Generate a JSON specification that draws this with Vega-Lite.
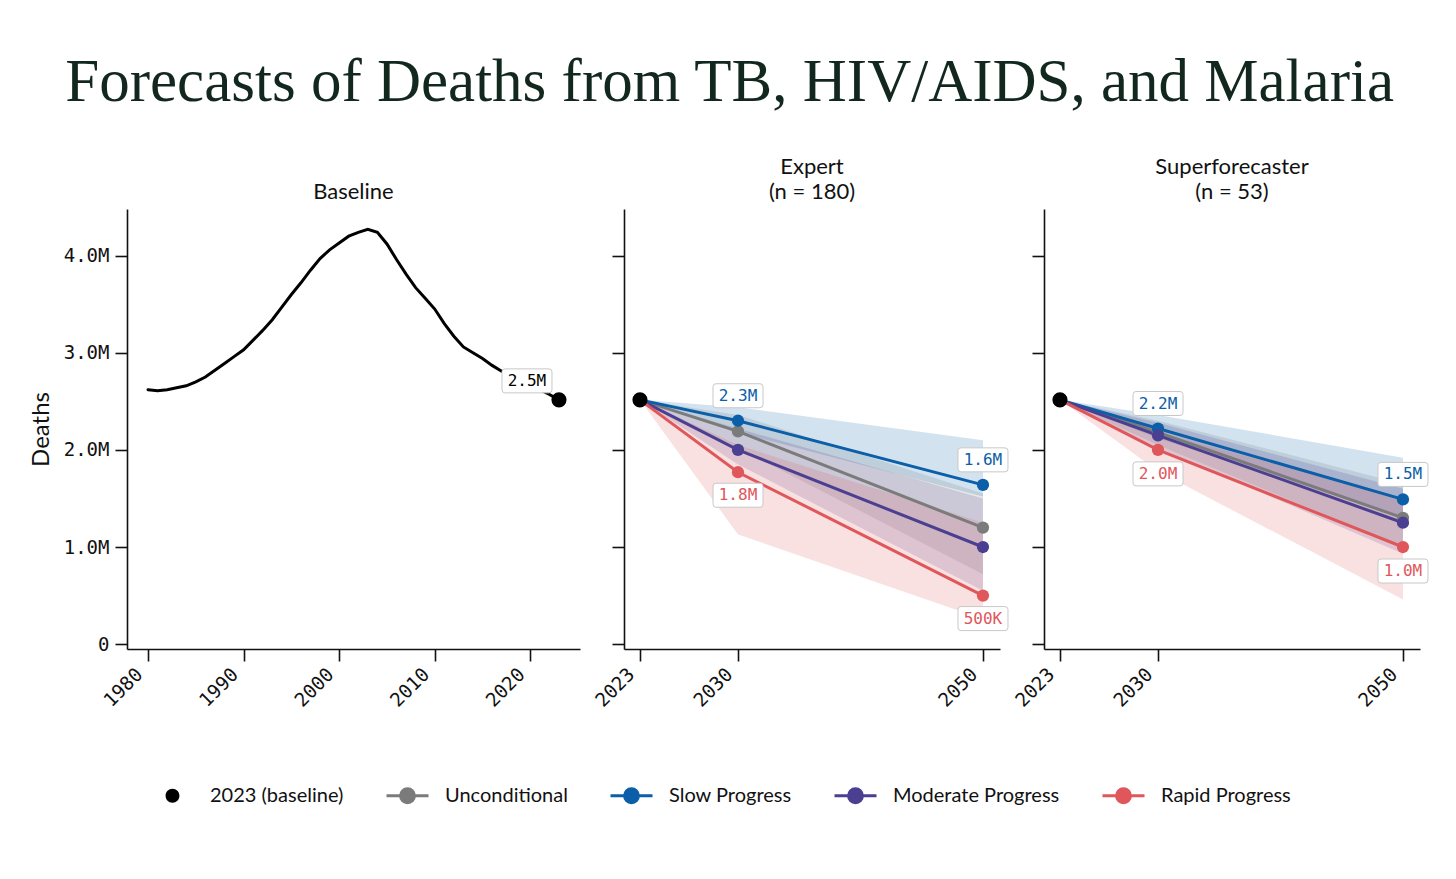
{
  "$schema": "https://vega.github.io/schema/vega-lite/v6.json",
  "background": "white",
  "padding": {"left": 29, "top": 52, "right": 20, "bottom": 10},
  "title": {
    "text": "Forecasts of Deaths from TB, HIV/AIDS, and Malaria",
    "font": "Liberation Serif",
    "fontSize": 61,
    "fontWeight": "normal",
    "color": "#12281f",
    "anchor": "middle",
    "offset": 42
  },
  "datasets": {
    "baseline": [
      {"year": 1980, "deaths": 2620000}, {"year": 1981, "deaths": 2610000},
      {"year": 1982, "deaths": 2620000}, {"year": 1983, "deaths": 2640000},
      {"year": 1984, "deaths": 2660000}, {"year": 1985, "deaths": 2700000},
      {"year": 1986, "deaths": 2750000}, {"year": 1987, "deaths": 2820000},
      {"year": 1988, "deaths": 2890000}, {"year": 1989, "deaths": 2960000},
      {"year": 1990, "deaths": 3030000}, {"year": 1991, "deaths": 3130000},
      {"year": 1992, "deaths": 3230000}, {"year": 1993, "deaths": 3340000},
      {"year": 1994, "deaths": 3470000}, {"year": 1995, "deaths": 3600000},
      {"year": 1996, "deaths": 3720000}, {"year": 1997, "deaths": 3850000},
      {"year": 1998, "deaths": 3970000}, {"year": 1999, "deaths": 4060000},
      {"year": 2000, "deaths": 4130000}, {"year": 2001, "deaths": 4200000},
      {"year": 2002, "deaths": 4240000}, {"year": 2003, "deaths": 4270000},
      {"year": 2004, "deaths": 4240000}, {"year": 2005, "deaths": 4120000},
      {"year": 2006, "deaths": 3960000}, {"year": 2007, "deaths": 3810000},
      {"year": 2008, "deaths": 3670000}, {"year": 2009, "deaths": 3560000},
      {"year": 2010, "deaths": 3450000}, {"year": 2011, "deaths": 3300000},
      {"year": 2012, "deaths": 3170000}, {"year": 2013, "deaths": 3060000},
      {"year": 2014, "deaths": 3000000}, {"year": 2015, "deaths": 2940000},
      {"year": 2016, "deaths": 2870000}, {"year": 2017, "deaths": 2810000},
      {"year": 2018, "deaths": 2760000}, {"year": 2019, "deaths": 2700000},
      {"year": 2020, "deaths": 2660000}, {"year": 2021, "deaths": 2620000},
      {"year": 2022, "deaths": 2570000}, {"year": 2023, "deaths": 2515000}
    ],
    "anchor": [
      {"panel": "Baseline", "series": "2023 (baseline)", "year": 2023, "deaths": 2515000},
      {"panel": "Expert", "series": "2023 (baseline)", "year": 2023, "deaths": 2515000},
      {"panel": "Superforecaster", "series": "2023 (baseline)", "year": 2023, "deaths": 2515000}
    ],
    "forecast": [
      {"panel": "Expert", "series": "Unconditional", "year": 2023, "deaths": 2515000, "lo": 2515000, "hi": 2515000},
      {"panel": "Expert", "series": "Unconditional", "year": 2030, "deaths": 2190000, "lo": 2020000, "hi": 2360000},
      {"panel": "Expert", "series": "Unconditional", "year": 2050, "deaths": 1200000, "lo": 720000, "hi": 1550000},
      {"panel": "Expert", "series": "Slow Progress", "year": 2023, "deaths": 2515000, "lo": 2515000, "hi": 2515000},
      {"panel": "Expert", "series": "Slow Progress", "year": 2030, "deaths": 2300000, "lo": 2180000, "hi": 2440000},
      {"panel": "Expert", "series": "Slow Progress", "year": 2050, "deaths": 1640000, "lo": 1520000, "hi": 2100000},
      {"panel": "Expert", "series": "Moderate Progress", "year": 2023, "deaths": 2515000, "lo": 2515000, "hi": 2515000},
      {"panel": "Expert", "series": "Moderate Progress", "year": 2030, "deaths": 2000000, "lo": 1850000, "hi": 2220000},
      {"panel": "Expert", "series": "Moderate Progress", "year": 2050, "deaths": 1000000, "lo": 550000, "hi": 1500000},
      {"panel": "Expert", "series": "Rapid Progress", "year": 2023, "deaths": 2515000, "lo": 2515000, "hi": 2515000},
      {"panel": "Expert", "series": "Rapid Progress", "year": 2030, "deaths": 1770000, "lo": 1130000, "hi": 2050000},
      {"panel": "Expert", "series": "Rapid Progress", "year": 2050, "deaths": 500000, "lo": 260000, "hi": 1250000},
      {"panel": "Superforecaster", "series": "Unconditional", "year": 2023, "deaths": 2515000, "lo": 2515000, "hi": 2515000},
      {"panel": "Superforecaster", "series": "Unconditional", "year": 2030, "deaths": 2180000, "lo": 2050000, "hi": 2300000},
      {"panel": "Superforecaster", "series": "Unconditional", "year": 2050, "deaths": 1300000, "lo": 1000000, "hi": 1650000},
      {"panel": "Superforecaster", "series": "Slow Progress", "year": 2023, "deaths": 2515000, "lo": 2515000, "hi": 2515000},
      {"panel": "Superforecaster", "series": "Slow Progress", "year": 2030, "deaths": 2220000, "lo": 2120000, "hi": 2360000},
      {"panel": "Superforecaster", "series": "Slow Progress", "year": 2050, "deaths": 1490000, "lo": 1300000, "hi": 1920000},
      {"panel": "Superforecaster", "series": "Moderate Progress", "year": 2023, "deaths": 2515000, "lo": 2515000, "hi": 2515000},
      {"panel": "Superforecaster", "series": "Moderate Progress", "year": 2030, "deaths": 2150000, "lo": 2020000, "hi": 2280000},
      {"panel": "Superforecaster", "series": "Moderate Progress", "year": 2050, "deaths": 1250000, "lo": 930000, "hi": 1600000},
      {"panel": "Superforecaster", "series": "Rapid Progress", "year": 2023, "deaths": 2515000, "lo": 2515000, "hi": 2515000},
      {"panel": "Superforecaster", "series": "Rapid Progress", "year": 2030, "deaths": 2000000, "lo": 1780000, "hi": 2180000},
      {"panel": "Superforecaster", "series": "Rapid Progress", "year": 2050, "deaths": 1000000, "lo": 460000, "hi": 1500000}
    ]
  },
  "spacing": 44,
  "bounds": "flush",
  "resolve": {"scale": {"color": "shared", "stroke": "shared", "fill": "shared"}, "legend": {"color": "shared", "stroke": "shared"}},
  "hconcat": [
    {
      "width": 453,
      "height": 440,
      "title": {"text": "Baseline", "frame": "group", "font": "Lato", "fontSize": 22, "fontWeight": "normal", "color": "#111111", "offset": 5},
      "layer": [
        {
          "data": {"name": "baseline"},
          "mark": {"type": "line", "color": "#000000", "strokeWidth": 3, "strokeCap": "round"},
          "encoding": {
            "x": {"field": "year", "type": "quantitative", "scale": {"domain": [1977.8, 2025.2], "nice": false, "zero": false},
                  "axis": {"title": null, "values": [1980, 1990, 2000, 2010, 2020], "format": "d"}},
            "y": {"field": "deaths", "type": "quantitative", "scale": {"domain": [-50000, 4480000], "nice": false, "zero": false},
                  "axis": {"title": "Deaths", "values": [0, 1000000, 2000000, 3000000, 4000000], "labelPadding": 6, "titlePadding": 10,
                           "labelExpr": "datum.value === 0 ? '0' : format(datum.value / 1000000, '.1f') + 'M'"}}
          }
        },
        {
          "data": {"name": "anchor"},
          "transform": [{"filter": "datum.panel === 'Baseline'"}],
          "mark": {"type": "point", "filled": true, "opacity": 1, "size": 230},
          "encoding": {
            "x": {"field": "year", "type": "quantitative"},
            "y": {"field": "deaths", "type": "quantitative"},
            "color": {"field": "series", "type": "nominal",
                      "scale": {"domain": ["2023 (baseline)", "Unconditional", "Slow Progress", "Moderate Progress", "Rapid Progress"],
                                "range": ["#000000", "#7b7b7b", "#0b5ea8", "#4b3f91", "#e0575b"]},
                      "legend": {
                        "orient": "none", "legendX": 23, "legendY": 564, "direction": "horizontal", "title": null,
                        "labelFont": "Lato", "labelFontSize": 20, "labelColor": "#111111", "labelOffset": 15, "labelLimit": 400,
                        "columnPadding": 36, "symbolSize": 1764, "symbolStrokeWidth": 3, "symbolOpacity": 1,
                        "symbolType": "M-1,0L1,0M-0.33,0A0.33,0.33,0,1,1,0.33,0A0.33,0.33,0,1,1,-0.33,0Z"
                      }}
          }
        },
        {
          "data": {"name": "anchor"},
          "transform": [{"filter": "datum.panel === 'Baseline'"}],
          "mark": {"type": "point", "filled": true, "fill": "white", "stroke": "#c8c8c8", "strokeWidth": 1, "opacity": 1, "size": 2500,
                   "shape": "M-0.88,-0.48L0.88,-0.48Q1,-0.48,1,-0.36L1,0.36Q1,0.48,0.88,0.48L-0.88,0.48Q-1,0.48,-1,0.36L-1,-0.36Q-1,-0.48,-0.88,-0.48Z",
                   "xOffset": -32, "yOffset": -19},
          "encoding": {
            "x": {"field": "year", "type": "quantitative"},
            "y": {"field": "deaths", "type": "quantitative"}
          }
        },
        {
          "data": {"name": "anchor"},
          "transform": [
            {"filter": "datum.panel === 'Baseline'"},
            {"calculate": "format(datum.deaths / 1000000, '.1f') + 'M'", "as": "lbl"}
          ],
          "mark": {"type": "text", "font": "DejaVu Sans Mono", "fontSize": 16, "color": "#000000", "dx": -32, "dy": -19, "align": "center", "baseline": "middle"},
          "encoding": {
            "x": {"field": "year", "type": "quantitative"},
            "y": {"field": "deaths", "type": "quantitative"},
            "text": {"field": "lbl"}
          }
        }
      ]
    },
    {
      "width": 376,
      "height": 440,
      "title": {"text": ["Expert", "(n = 180)"], "frame": "group", "font": "Lato", "fontSize": 22, "fontWeight": "normal", "color": "#111111", "offset": 5, "lineHeight": 25},
      "layer": [
        {
          "data": {"name": "forecast"},
          "transform": [{"filter": "datum.panel === 'Expert'"}],
          "mark": {"type": "area", "fillOpacity": 0.18},
          "encoding": {
            "x": {"field": "year", "type": "quantitative", "scale": {"domain": [2021.86, 2030, 2051.39], "range": [0, 114, 376], "nice": false, "zero": false},
                  "axis": {"title": null, "values": [2023, 2030, 2050], "format": "d"}},
            "y": {"field": "lo", "type": "quantitative", "scale": {"domain": [-50000, 4480000], "nice": false, "zero": false},
                  "axis": {"title": null, "labels": false, "values": [0, 1000000, 2000000, 3000000, 4000000]}},
            "y2": {"field": "hi"},
            "fill": {"field": "series", "type": "nominal", "legend": null,
                     "scale": {"domain": ["Unconditional", "Slow Progress", "Moderate Progress", "Rapid Progress"],
                               "range": ["#7b7b7b", "#0b5ea8", "#4b3f91", "#e0575b"]}}
          }
        },
        {
          "data": {"name": "forecast"},
          "transform": [{"filter": "datum.panel === 'Expert'"}],
          "mark": {"type": "line", "strokeWidth": 3},
          "encoding": {
            "x": {"field": "year", "type": "quantitative"},
            "y": {"field": "deaths", "type": "quantitative"},
            "stroke": {"field": "series", "type": "nominal",
                       "scale": {"domain": ["2023 (baseline)", "Unconditional", "Slow Progress", "Moderate Progress", "Rapid Progress"],
                                 "range": ["transparent", "#7b7b7b", "#0b5ea8", "#4b3f91", "#e0575b"]}}
          }
        },
        {
          "data": {"name": "forecast"},
          "transform": [{"filter": "datum.panel === 'Expert' && datum.year > 2023"}],
          "mark": {"type": "point", "filled": true, "opacity": 1, "size": 150},
          "encoding": {
            "x": {"field": "year", "type": "quantitative"},
            "y": {"field": "deaths", "type": "quantitative"},
            "color": {"field": "series", "type": "nominal"}
          }
        },
        {
          "data": {"name": "anchor"},
          "transform": [{"filter": "datum.panel === 'Expert'"}],
          "mark": {"type": "point", "filled": true, "opacity": 1, "size": 230},
          "encoding": {
            "x": {"field": "year", "type": "quantitative"},
            "y": {"field": "deaths", "type": "quantitative"},
            "color": {"field": "series", "type": "nominal"}
          }
        },
        {
          "data": {"name": "forecast"},
          "transform": [{"filter": "datum.panel === 'Expert' && datum.year > 2023 && datum.series === 'Slow Progress'"}],
          "mark": {"type": "point", "filled": true, "fill": "white", "stroke": "#c8c8c8", "strokeWidth": 1, "opacity": 1, "size": 2500,
                   "shape": "M-0.88,-0.48L0.88,-0.48Q1,-0.48,1,-0.36L1,0.36Q1,0.48,0.88,0.48L-0.88,0.48Q-1,0.48,-1,0.36L-1,-0.36Q-1,-0.48,-0.88,-0.48Z",
                   "yOffset": -25},
          "encoding": {
            "x": {"field": "year", "type": "quantitative"},
            "y": {"field": "deaths", "type": "quantitative"}
          }
        },
        {
          "data": {"name": "forecast"},
          "transform": [{"filter": "datum.panel === 'Expert' && datum.year > 2023 && datum.series === 'Rapid Progress'"}],
          "mark": {"type": "point", "filled": true, "fill": "white", "stroke": "#c8c8c8", "strokeWidth": 1, "opacity": 1, "size": 2500,
                   "shape": "M-0.88,-0.48L0.88,-0.48Q1,-0.48,1,-0.36L1,0.36Q1,0.48,0.88,0.48L-0.88,0.48Q-1,0.48,-1,0.36L-1,-0.36Q-1,-0.48,-0.88,-0.48Z",
                   "yOffset": 23},
          "encoding": {
            "x": {"field": "year", "type": "quantitative"},
            "y": {"field": "deaths", "type": "quantitative"}
          }
        },
        {
          "data": {"name": "forecast"},
          "transform": [
            {"filter": "datum.panel === 'Expert' && datum.year > 2023 && datum.series === 'Slow Progress'"},
            {"calculate": "datum.deaths >= 1000000 ? format(datum.deaths / 1000000, '.1f') + 'M' : format(datum.deaths / 1000, '.0f') + 'K'", "as": "lbl"}
          ],
          "mark": {"type": "text", "font": "DejaVu Sans Mono", "fontSize": 16, "color": "#0b5ea8", "dy": -25, "align": "center", "baseline": "middle"},
          "encoding": {
            "x": {"field": "year", "type": "quantitative"},
            "y": {"field": "deaths", "type": "quantitative"},
            "text": {"field": "lbl"}
          }
        },
        {
          "data": {"name": "forecast"},
          "transform": [
            {"filter": "datum.panel === 'Expert' && datum.year > 2023 && datum.series === 'Rapid Progress'"},
            {"calculate": "datum.deaths >= 1000000 ? format(datum.deaths / 1000000, '.1f') + 'M' : format(datum.deaths / 1000, '.0f') + 'K'", "as": "lbl"}
          ],
          "mark": {"type": "text", "font": "DejaVu Sans Mono", "fontSize": 16, "color": "#e0575b", "dy": 23, "align": "center", "baseline": "middle"},
          "encoding": {
            "x": {"field": "year", "type": "quantitative"},
            "y": {"field": "deaths", "type": "quantitative"},
            "text": {"field": "lbl"}
          }
        }
      ]
    },
    {
      "width": 376,
      "height": 440,
      "title": {"text": ["Superforecaster", "(n = 53)"], "frame": "group", "font": "Lato", "fontSize": 22, "fontWeight": "normal", "color": "#111111", "offset": 5, "lineHeight": 25},
      "layer": [
        {
          "data": {"name": "forecast"},
          "transform": [{"filter": "datum.panel === 'Superforecaster'"}],
          "mark": {"type": "area", "fillOpacity": 0.18},
          "encoding": {
            "x": {"field": "year", "type": "quantitative", "scale": {"domain": [2021.86, 2030, 2051.39], "range": [0, 114, 376], "nice": false, "zero": false},
                  "axis": {"title": null, "values": [2023, 2030, 2050], "format": "d"}},
            "y": {"field": "lo", "type": "quantitative", "scale": {"domain": [-50000, 4480000], "nice": false, "zero": false},
                  "axis": {"title": null, "labels": false, "values": [0, 1000000, 2000000, 3000000, 4000000]}},
            "y2": {"field": "hi"},
            "fill": {"field": "series", "type": "nominal", "legend": null}
          }
        },
        {
          "data": {"name": "forecast"},
          "transform": [{"filter": "datum.panel === 'Superforecaster'"}],
          "mark": {"type": "line", "strokeWidth": 3},
          "encoding": {
            "x": {"field": "year", "type": "quantitative"},
            "y": {"field": "deaths", "type": "quantitative"},
            "stroke": {"field": "series", "type": "nominal"}
          }
        },
        {
          "data": {"name": "forecast"},
          "transform": [{"filter": "datum.panel === 'Superforecaster' && datum.year > 2023"}],
          "mark": {"type": "point", "filled": true, "opacity": 1, "size": 150},
          "encoding": {
            "x": {"field": "year", "type": "quantitative"},
            "y": {"field": "deaths", "type": "quantitative"},
            "color": {"field": "series", "type": "nominal"}
          }
        },
        {
          "data": {"name": "anchor"},
          "transform": [{"filter": "datum.panel === 'Superforecaster'"}],
          "mark": {"type": "point", "filled": true, "opacity": 1, "size": 230},
          "encoding": {
            "x": {"field": "year", "type": "quantitative"},
            "y": {"field": "deaths", "type": "quantitative"},
            "color": {"field": "series", "type": "nominal"}
          }
        },
        {
          "data": {"name": "forecast"},
          "transform": [{"filter": "datum.panel === 'Superforecaster' && datum.year > 2023 && datum.series === 'Slow Progress'"}],
          "mark": {"type": "point", "filled": true, "fill": "white", "stroke": "#c8c8c8", "strokeWidth": 1, "opacity": 1, "size": 2500,
                   "shape": "M-0.88,-0.48L0.88,-0.48Q1,-0.48,1,-0.36L1,0.36Q1,0.48,0.88,0.48L-0.88,0.48Q-1,0.48,-1,0.36L-1,-0.36Q-1,-0.48,-0.88,-0.48Z",
                   "yOffset": -25},
          "encoding": {
            "x": {"field": "year", "type": "quantitative"},
            "y": {"field": "deaths", "type": "quantitative"}
          }
        },
        {
          "data": {"name": "forecast"},
          "transform": [{"filter": "datum.panel === 'Superforecaster' && datum.year > 2023 && datum.series === 'Rapid Progress'"}],
          "mark": {"type": "point", "filled": true, "fill": "white", "stroke": "#c8c8c8", "strokeWidth": 1, "opacity": 1, "size": 2500,
                   "shape": "M-0.88,-0.48L0.88,-0.48Q1,-0.48,1,-0.36L1,0.36Q1,0.48,0.88,0.48L-0.88,0.48Q-1,0.48,-1,0.36L-1,-0.36Q-1,-0.48,-0.88,-0.48Z",
                   "yOffset": 24},
          "encoding": {
            "x": {"field": "year", "type": "quantitative"},
            "y": {"field": "deaths", "type": "quantitative"}
          }
        },
        {
          "data": {"name": "forecast"},
          "transform": [
            {"filter": "datum.panel === 'Superforecaster' && datum.year > 2023 && datum.series === 'Slow Progress'"},
            {"calculate": "datum.deaths >= 1000000 ? format(datum.deaths / 1000000, '.1f') + 'M' : format(datum.deaths / 1000, '.0f') + 'K'", "as": "lbl"}
          ],
          "mark": {"type": "text", "font": "DejaVu Sans Mono", "fontSize": 16, "color": "#0b5ea8", "dy": -25, "align": "center", "baseline": "middle"},
          "encoding": {
            "x": {"field": "year", "type": "quantitative"},
            "y": {"field": "deaths", "type": "quantitative"},
            "text": {"field": "lbl"}
          }
        },
        {
          "data": {"name": "forecast"},
          "transform": [
            {"filter": "datum.panel === 'Superforecaster' && datum.year > 2023 && datum.series === 'Rapid Progress'"},
            {"calculate": "datum.deaths >= 1000000 ? format(datum.deaths / 1000000, '.1f') + 'M' : format(datum.deaths / 1000, '.0f') + 'K'", "as": "lbl"}
          ],
          "mark": {"type": "text", "font": "DejaVu Sans Mono", "fontSize": 16, "color": "#e0575b", "dy": 24, "align": "center", "baseline": "middle"},
          "encoding": {
            "x": {"field": "year", "type": "quantitative"},
            "y": {"field": "deaths", "type": "quantitative"},
            "text": {"field": "lbl"}
          }
        }
      ]
    }
  ],
  "config": {
    "view": {"stroke": null},
    "axis": {
      "grid": false,
      "domainColor": "#111111", "domainWidth": 1.6,
      "tickColor": "#111111", "tickWidth": 1.6, "tickSize": 12,
      "labelFont": "DejaVu Sans Mono", "labelFontSize": 19, "labelColor": "#111111",
      "titleFont": "Lato", "titleFontSize": 24, "titleFontWeight": "normal", "titleColor": "#111111"
    },
    "axisX": {"labelAngle": -45, "labelAlign": "right", "labelBaseline": "middle", "labelPadding": 10, "labelOffset": -9}
  }
}
